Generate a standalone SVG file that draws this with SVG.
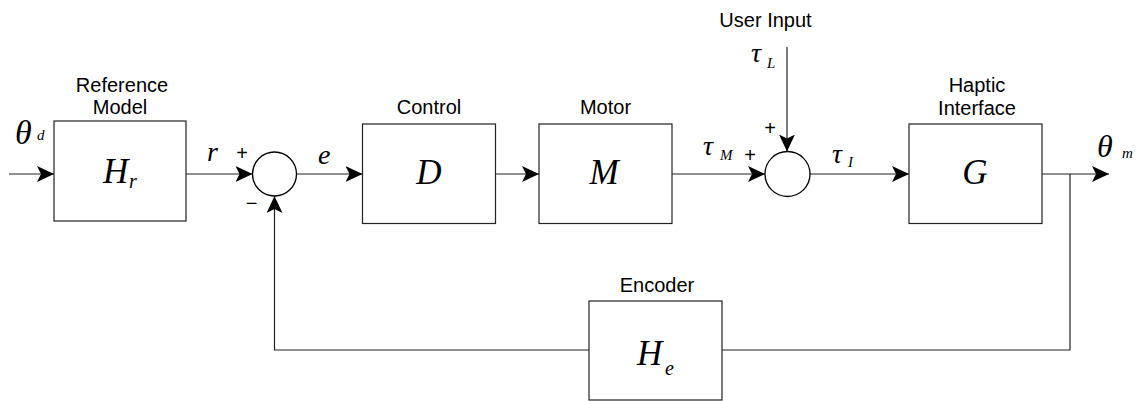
<svg xmlns="http://www.w3.org/2000/svg" width="1138" height="401" viewBox="0 0 1138 401">
<style>
.box{fill:#fff;stroke:#222;stroke-width:1.2}
.sum{fill:#fff;stroke:#000;stroke-width:1.3}
.wire{fill:none;stroke:#222;stroke-width:1.2}
.lbl{font-family:"Liberation Sans",Arial,sans-serif;font-size:20px;fill:#000;text-anchor:middle}
.m{font-family:"Liberation Serif","Times New Roman",serif;font-style:italic;fill:#000}
.sg{font-family:"Liberation Sans",Arial,sans-serif;font-size:20px;fill:#000;text-anchor:middle}
</style>
<defs>
<marker id="ah" markerUnits="userSpaceOnUse" markerWidth="18" markerHeight="16" refX="17" refY="8" orient="auto">
<path d="M0,0 L17,8 L0,16 L4,8 Z" fill="#000"/>
</marker>
</defs>
<rect width="1138" height="401" fill="#fff"/>
<g id="connectors">
<path class="wire" d="M9,174 H54" marker-end="url(#ah)"/>
<path class="wire" d="M186,174 H252.5" marker-end="url(#ah)"/>
<path class="wire" d="M296.5,174 H362.5" marker-end="url(#ah)"/>
<path class="wire" d="M495.5,174 H539" marker-end="url(#ah)"/>
<path class="wire" d="M672,174 H765" marker-end="url(#ah)"/>
<path class="wire" d="M810,174 H909" marker-end="url(#ah)"/>
<path class="wire" d="M1042,174 H1109" marker-end="url(#ah)"/>
<path class="wire" d="M1070,174 V350 H722"/>
<path class="wire" d="M589,350 H274.5 V196" marker-end="url(#ah)"/>
<path class="wire" d="M787,47 V151.5" marker-end="url(#ah)"/>
</g>
<g id="input-label">
<text class="m" x="15" y="144" font-size="34">θ</text>
<text class="m" x="37" y="140" font-size="15">d</text>
</g>
<g id="reference-model">
<rect class="box" x="54" y="121" width="132" height="100"/>
<text class="lbl" x="122" y="92">Reference</text>
<text class="lbl" x="120" y="114">Model</text>
<text class="m" x="103" y="183" font-size="35">H</text>
<text class="m" x="129" y="188" font-size="20">r</text>
</g>
<g id="sum1">
<circle class="sum" cx="274.5" cy="174" r="22"/>
<text class="m" x="207" y="161" font-size="28">r</text>
<text class="sg" x="242" y="160">+</text>
<text class="sg" x="251.5" y="210">−</text>
<text class="m" x="318" y="164" font-size="28">e</text>
</g>
<g id="control">
<rect class="box" x="362.5" y="124" width="133" height="99.5"/>
<text class="lbl" x="429" y="114">Control</text>
<text class="m" x="429" y="184" font-size="35" text-anchor="middle">D</text>
</g>
<g id="motor">
<rect class="box" x="539" y="124" width="133" height="99.5"/>
<text class="lbl" x="605.5" y="114">Motor</text>
<text class="m" x="604" y="183.5" font-size="35" text-anchor="middle">M</text>
</g>
<g id="sum2">
<circle class="sum" cx="787.5" cy="174" r="22.5"/>
<text class="m" x="703" y="155" font-size="28">τ</text>
<text class="m" x="720" y="160" font-size="15">M</text>
<text class="sg" x="750" y="162">+</text>
<text class="sg" x="770" y="135">+</text>
<text class="m" x="751" y="62" font-size="28">τ</text>
<text class="m" x="767" y="68" font-size="15">L</text>
<text class="m" x="832" y="163" font-size="28">τ</text>
<text class="m" x="848" y="167" font-size="15">I</text>
<text class="lbl" x="765.5" y="27">User Input</text>
</g>
<g id="haptic-interface">
<rect class="box" x="909" y="124" width="133" height="99.5"/>
<text class="lbl" x="977" y="92">Haptic</text>
<text class="lbl" x="977" y="115">Interface</text>
<text class="m" x="975" y="184" font-size="35" text-anchor="middle">G</text>
<text class="m" x="1097" y="157" font-size="32">θ</text>
<text class="m" x="1122" y="158" font-size="15">m</text>
</g>
<g id="encoder">
<rect class="box" x="589" y="301" width="133" height="99"/>
<text class="lbl" x="657" y="291.5">Encoder</text>
<text class="m" x="637" y="365" font-size="35">H</text>
<text class="m" x="665" y="375" font-size="20">e</text>
</g>
</svg>
